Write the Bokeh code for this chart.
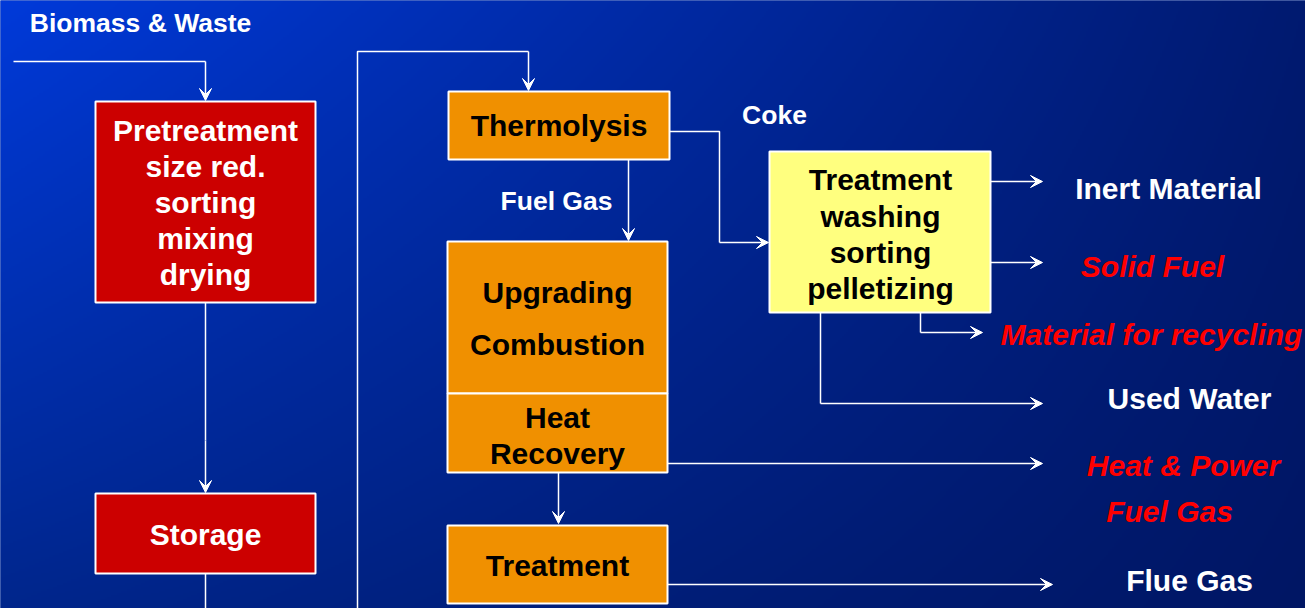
import numpy as np
from bokeh.plotting import figure
from bokeh.models import Range1d, ColumnDataSource, Arrow, VeeHead, GlobalInlineStyleSheet
from bokeh.core.properties import value
from bokeh.embed import file_html
from bokeh.resources import INLINE

# ---------------- content (text) ----------------
input_label = "Biomass & Waste"
red_box_lines = ["Pretreatment", "size red.", "sorting", "mixing", "drying"]
storage_label = "Storage"
thermolysis_label = "Thermolysis"
upgrading_lines = ["Upgrading", "Combustion"]
heat_lines = ["Heat", "Recovery"]
treatment_label = "Treatment"
yellow_lines = ["Treatment", "washing", "sorting", "pelletizing"]
flow_labels = ["Coke", "Fuel Gas"]
output_labels = ["Inert Material", "Solid Fuel", "Material for recycling",
                 "Used Water", "Heat & Power", "Fuel Gas", "Flue Gas"]
output_is_product = [False, True, True, False, True, True, False]

# ---------------- layout (screen pixels, y measured from top) ----------------
W, H = 1305, 608
def fy(y):
    return H - y

boxes = {  # left, right, top, bottom, fill
    "pre":   (95, 315, 101, 302, "#CC0000"),
    "stor":  (95, 315, 493, 573, "#CC0000"),
    "therm": (448, 669, 91, 159, "#F09000"),
    "upg":   (447, 667, 241, 393, "#F09000"),
    "heat":  (447, 667, 393, 472, "#F09000"),
    "treat": (447, 667, 525, 603, "#F09000"),
    "yel":   (769, 990, 151, 312, "#FFFF7F"),
}

# plain connector polylines (no arrowheads)
polylines = [
    ([13, 205], [61, 61]),
    ([205, 205], [302, 440]),
    ([205, 205], [573, 608]),
    ([357, 357, 528], [608, 51, 51]),
    ([669, 719, 719], [131, 131, 242]),
    ([920, 920], [312, 332]),
    ([820, 820], [312, 403]),
]
# arrows: start -> tip
arrows = [
    (205, 61, 205, 100),
    (205, 440, 205, 492),
    (528, 51, 528, 90),
    (628, 159, 628, 240),
    (719, 242, 768, 242),
    (990, 181, 1042, 181),
    (990, 262, 1042, 262),
    (920, 332, 982, 332),
    (820, 403, 1042, 403),
    (667, 463, 1042, 463),
    (558, 472, 558, 523),
    (667, 584, 1052, 584),
]

p = figure(width=W, height=H, x_range=Range1d(0, W), y_range=Range1d(0, H),
           output_backend="svg", toolbar_location=None, min_border=0)
p.axis.visible = False
p.grid.visible = False
p.outline_line_color = None
p.background_fill_color = "#002C9E"
p.border_fill_color = "#002C9E"
p.stylesheets = [GlobalInlineStyleSheet(css="html,body{margin:0 !important;padding:0;overflow:hidden;background:#ffffff;}")]

# ---------------- background gradient ----------------
rows, cols = 304, 653
u = np.linspace(0, 1, cols)[None, :]
v = np.linspace(0, 1, rows)[:, None]
TL = np.array([0, 58, 218]); TR = np.array([0, 26, 112])
BL = np.array([0, 38, 140]); BR = np.array([0, 22, 100])
wtl = (1 - u) * (1 - v); wtr = u * (1 - v); wbl = (1 - u) * v; wbr = u * v
img = np.empty((rows, cols), dtype=np.uint32)
view = img.view(dtype=np.uint8).reshape((rows, cols, 4))
for c in range(3):
    view[:, :, c] = np.clip(TL[c] * wtl + TR[c] * wtr + BL[c] * wbl + BR[c] * wbr, 0, 255).astype(np.uint8)
view[:, :, 3] = 255
p.image_rgba(image=[img[::-1].copy()], x=-1, y=-1, dw=W + 2, dh=H + 2)

# ---------------- boxes ----------------
bsrc = ColumnDataSource(dict(
    left=[b[0] for b in boxes.values()], right=[b[1] for b in boxes.values()],
    top=[fy(b[2]) for b in boxes.values()], bottom=[fy(b[3]) for b in boxes.values()],
    fill=[b[4] for b in boxes.values()]))
p.quad(left="left", right="right", top="top", bottom="bottom", fill_color="fill",
       line_color="white", line_width=2, source=bsrc)

# ---------------- connectors ----------------
p.multi_line(xs=[pl[0] for pl in polylines], ys=[[fy(y) for y in pl[1]] for pl in polylines],
             line_color="white", line_width=1.5)
asrc = ColumnDataSource(dict(x0=[a[0] for a in arrows], y0=[fy(a[1]) for a in arrows],
                             x1=[a[2] for a in arrows], y1=[fy(a[3]) for a in arrows]))
p.add_layout(Arrow(x_start="x0", y_start="y0", x_end="x1", y_end="y1", source=asrc,
                   line_color="white", line_width=1.5,
                   end=VeeHead(size=12, fill_color="white", line_color="white", line_width=1)))

# ---------------- texts ----------------
FONT = value("Liberation Sans")
def put(xs, ys, texts, color, size, style="bold"):
    p.text(x=xs, y=[fy(y) for y in ys], text=texts, text_font=FONT, text_font_style=style,
           text_font_size=size, text_color=color, text_align="center", text_baseline="middle")

put([140], [22], [input_label], "white", "26.5px")
put([774, 556], [114, 200], flow_labels, "white", "26.5px")
put([205] * 5, [129.5, 165.5, 201.5, 237.5, 273.5], red_box_lines, "white", "30px")
put([205], [533.5], [storage_label], "white", "30px")
put([558.5], [125], [thermolysis_label], "black", "30px")
put([557, 557], [292, 344], upgrading_lines, "black", "30px")
put([557, 557], [417, 453], heat_lines, "black", "30px")
put([557], [565], [treatment_label], "black", "30px")
put([880] * 4, [179, 215.5, 251.5, 287.5], yellow_lines, "black", "30px")

out_x = [1168, 1152, 1151, 1189, 1183, 1169, 1189]
out_y = [188, 266, 334, 398, 465, 511, 580]
wi = [i for i, f in enumerate(output_is_product) if not f]
ri = [i for i, f in enumerate(output_is_product) if f]
put([out_x[i] for i in wi], [out_y[i] for i in wi], [output_labels[i] for i in wi], "white", "30px")
put([out_x[i] for i in ri], [out_y[i] for i in ri], [output_labels[i] for i in ri], "#FF0000", "30px", "bold italic")

open("out.html", "w").write(file_html(p, INLINE))
